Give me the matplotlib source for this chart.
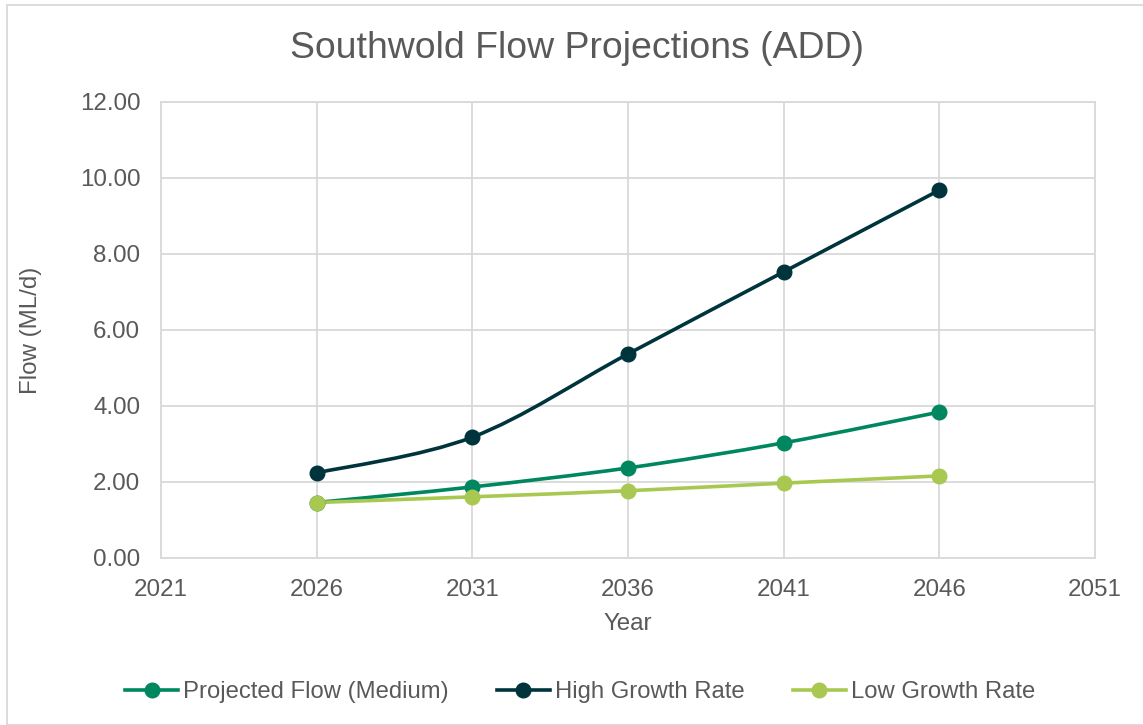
import numpy as np
import matplotlib.pyplot as plt
from matplotlib.path import Path
from matplotlib.patches import PathPatch, Rectangle
from matplotlib.lines import Line2D

plt.rcParams['font.family'] = ['Liberation Sans', 'DejaVu Sans']

years = [2026, 2031, 2036, 2041, 2046]
medium_flow = [1.46, 1.87, 2.37, 3.03, 3.84]
high_flow = [2.24, 3.18, 5.37, 7.53, 9.68]
low_flow = [1.46, 1.61, 1.77, 1.97, 2.16]

series = [
    ("Projected Flow (Medium)", medium_flow, "#00875f"),
    ("High Growth Rate", high_flow, "#00343d"),
    ("Low Growth Rate", low_flow, "#a9c852"),
]

TEXT = "#595959"
GRID = "#d9d9d9"


def smooth_path(xs, ys):
    """Bezier path through the points, spreadsheet-style smoothing."""
    pts = np.column_stack([xs, ys]).astype(float)
    n = len(pts)
    verts = [pts[0]]
    codes = [Path.MOVETO]
    for i in range(n - 1):
        p0 = pts[i - 1] if i > 0 else pts[i]
        p1 = pts[i]
        p2 = pts[i + 1]
        p3 = pts[i + 2] if i + 2 < n else pts[i + 1]
        c1 = p1 + (p2 - p0) / 6.0
        c2 = p2 - (p3 - p1) / 6.0
        verts += [c1, c2, p2]
        codes += [Path.CURVE4] * 3
    return Path(verts, codes)


fig = plt.figure(figsize=(11.43, 7.25), dpi=100)
ax = fig.add_axes([161 / 1143, 1 - 558 / 725, (1095 - 161) / 1143, (558 - 102) / 725])

handles = []
for name, vals, color in series:
    patch = PathPatch(smooth_path(years, vals), facecolor="none", edgecolor=color,
                      lw=2.6, capstyle="round", joinstyle="round", zorder=3)
    ax.add_patch(patch)
    ax.plot(years, vals, linestyle="none", marker="o", markersize=10.5,
            color=color, zorder=4)
    handles.append(Line2D([], [], color=color, lw=2.6, marker="o", markersize=10.5,
                          label=name))

ax.set_xlim(2021, 2051)
ax.set_ylim(0, 12)
ax.set_xticks(np.arange(2021, 2052, 5))
ax.set_yticks(np.arange(0, 12.1, 2))
ax.set_yticklabels([f"{v:.2f}" for v in np.arange(0, 12.1, 2)])
ax.grid(True, color=GRID, lw=1.3)
ax.set_axisbelow(True)
for sp in ax.spines.values():
    sp.set_color(GRID)
    sp.set_linewidth(1.3)
ax.tick_params(length=0, labelsize=17.4, labelcolor=TEXT, pad=15)

ax.set_xlabel("Year", fontsize=17.4, color=TEXT)
ax.set_ylabel("Flow (ML/d)", fontsize=17.4, color=TEXT)
ax.xaxis.set_label_coords(0.5, (558 - 624) / 456)
ax.xaxis.label.set_va("center")
ax.yaxis.set_label_coords((31 - 161) / 934, 0.5)
ax.yaxis.label.set_va("center")

fig.text(577 / 1143, 1 - 48 / 725, "Southwold Flow Projections (ADD)", ha="center",
         va="center", fontsize=26.9, color=TEXT)

fig.legend(handles=handles, loc="center", bbox_to_anchor=(580 / 1143, 1 - 692 / 725),
           ncol=3, frameon=False, fontsize=17.2, labelcolor=TEXT,
           handlelength=2.25, handletextpad=0.2, columnspacing=2.0)

fig.patches.append(Rectangle((7 / 1143, 0), 1.0, 1 - 5 / 725, transform=fig.transFigure,
                             facecolor="none", edgecolor=GRID, lw=1.3))

fig.savefig("out.png", dpi=100)
